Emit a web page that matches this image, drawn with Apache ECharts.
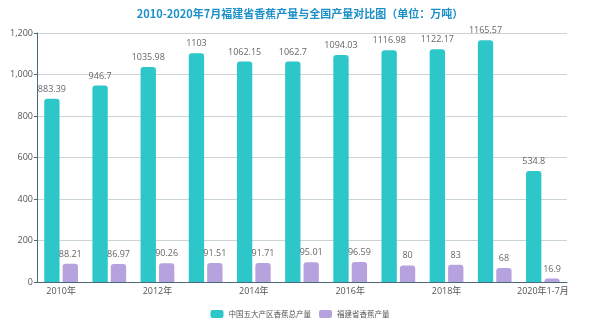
<!DOCTYPE html>
<html><head><meta charset="utf-8">
<script src="https://cdn.jsdelivr.net/npm/echarts@6/dist/echarts.min.js"></script>
<style>html,body{margin:0;padding:0;background:#fff}#c{width:600px;height:327px}</style>
</head><body><div id="c"></div>
<script>
const categories = ['2010年','2011年','2012年','2013年','2014年','2015年','2016年','2017年','2018年','2019年','2020年1-7月'];
const totalNames = '中国五大产区香蕉总产量';
const fujianNames = '福建省香蕉产量';
const totalValues = [883.39, 946.7, 1035.98, 1103, 1062.15, 1062.7, 1094.03, 1116.98, 1122.17, 1165.57, 534.8];
const fujianValues = [88.21, 86.97, 90.26, 91.51, 91.71, 95.01, 96.59, 80, 83, 68, 16.9];
const yTicks = [0, 200, 400, 600, 800, 1000, 1200];

const chart = echarts.init(document.getElementById('c'));
const font = '"Open Sans", "Noto Sans CJK SC", sans-serif';
const labelStyle = {show: true, position: 'top', color: '#666', fontSize: 9, fontFamily: font, distance: 5};
chart.setOption({
  animation: false,
  title: {
    text: '2010-2020年7月福建省香蕉产量与全国产量对比图（单位：万吨）',
    left: 'center', top: 3,
    textStyle: {color: '#1b8fc8', fontSize: 11, fontWeight: 'bold', fontFamily: '"Noto Sans CJK SC", sans-serif'}
  },
  legend: {
    bottom: 4, left: 'center',
    itemWidth: 13, itemHeight: 8, itemGap: 8,
    icon: 'roundRect',
    textStyle: {color: '#555', fontSize: 7.5, fontFamily: '"Noto Sans CJK SC", sans-serif'},
    data: [totalNames, fujianNames]
  },
  grid: {left: 37, right: 33, top: 33, bottom: 45},
  xAxis: {
    type: 'category', data: categories,
    axisLine: {lineStyle: {color: '#4a6a7a'}},
    axisTick: {show: false},
    axisLabel: {interval: 1, color: '#555', fontSize: 9, fontFamily: font, margin: 5}
  },
  yAxis: {
    type: 'value', min: yTicks[0], max: yTicks[yTicks.length-1], interval: 200,
    axisLine: {show: true, lineStyle: {color: '#4a6a7a'}},
    axisTick: {show: true, length: 3, lineStyle: {color: '#4a6a7a'}},
    splitLine: {lineStyle: {color: '#c9d3d8'}},
    axisLabel: {color: '#555', fontSize: 9, fontFamily: font, margin: 4,
      formatter: v => v.toLocaleString('en-US')}
  },
  series: [
    {name: totalNames, type: 'bar', data: totalValues, barGap: '20%', barCategoryGap: '30%',
     itemStyle: {color: '#2ec7c9', borderRadius: [3,3,0,0]}, label: labelStyle},
    {name: fujianNames, type: 'bar', data: fujianValues,
     itemStyle: {color: '#b6a2de', borderRadius: [3,3,0,0]}, label: labelStyle}
  ]
});
</script></body></html>
